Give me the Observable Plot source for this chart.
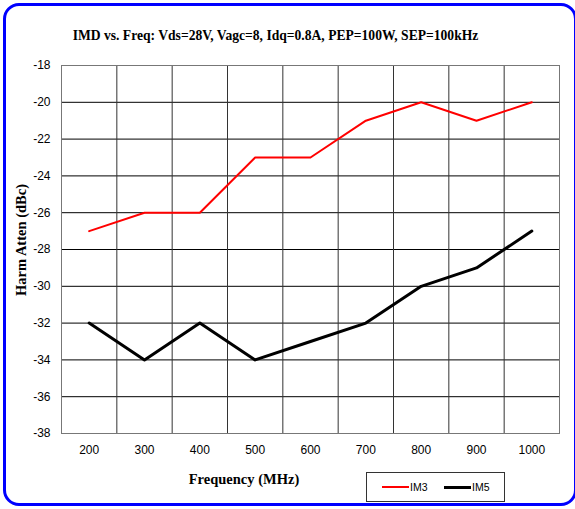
<!DOCTYPE html>
<html>
<head>
<meta charset="utf-8">
<script src="https://cdn.jsdelivr.net/npm/d3@7"></script>
<script src="https://cdn.jsdelivr.net/npm/@observablehq/plot@0.6"></script>
<style>
  html, body { margin: 0; padding: 0; background: #fff; }
  #wrap { position: relative; width: 575px; height: 509px; overflow: hidden; }
  #border { position: absolute; left: 3px; top: 3px; width: 574px; height: 503px; border: 3px solid #0000ff; border-radius: 16px; box-sizing: border-box; }
  #title { position: absolute; left: 0; width: 551px; top: 28px; text-align: center; font: bold 13.6px "Liberation Serif", "Times New Roman", serif; color: #000; white-space: nowrap; }
  #ylabel { position: absolute; left: 21px; top: 240px; transform: translate(-50%, -50%) rotate(-90deg); font: bold 14.5px "Liberation Serif", serif; white-space: nowrap; }
  #xlabel { position: absolute; left: 244px; top: 479px; transform: translate(-50%, -50%); font: bold 14.5px "Liberation Serif", serif; white-space: nowrap; }
  #legend { position: absolute; left: 366px; top: 472px; width: 139px; height: 30px; border: 1px solid #333; box-sizing: border-box; background: #fff; font: 10.5px "Liberation Sans", Arial, sans-serif; }
  .item { position: absolute; top: 0; height: 28px; display: flex; align-items: center; }
  .sw { display: inline-block; width: 27px; margin-right: 1px; }
  #chart { position: absolute; left: 0; top: 0; }
</style>
</head>
<body>
<div id="wrap">
  <div id="chart"></div>
  <div id="border"></div>
  <div id="title">IMD vs. Freq: Vds=28V, Vagc=8, Idq=0.8A, PEP=100W, SEP=100kHz</div>
  <div id="ylabel">Harm Atten (dBc)</div>
  <div id="xlabel">Frequency (MHz)</div>
  <div id="legend"></div>
</div>
<script>
const freqs = [200, 300, 400, 500, 600, 700, 800, 900, 1000];
const im3 = [-27, -26, -26, -23, -23, -21, -20, -21, -20];
const im5 = [-32, -34, -32, -34, -33, -32, -30, -29, -27];
const yTicks = [-38, -36, -34, -32, -30, -28, -26, -24, -22, -20, -18];
const xGrid = [250, 350, 450, 550, 650, 750, 850, 950];
const series = [
  {name: "IM3", values: im3, color: "#ff0000", width: 2},
  {name: "IM5", values: im5, color: "#000000", width: 3}
];

const rows = series.flatMap(s => freqs.map((f, i) => ({series: s.name, freq: f, value: s.values[i]})));

const chart = Plot.plot({
  width: 575,
  height: 509,
  marginLeft: 61,
  marginRight: 16,
  marginTop: 65,
  marginBottom: 76,
  style: {fontFamily: "'Liberation Sans', Arial, sans-serif", fontSize: "12px", color: "#000", background: "transparent"},
  x: {domain: [150, 1050], label: null},
  y: {domain: [-38, -18], label: null},
  marks: [
    Plot.ruleY(yTicks.slice(1, -1), {stroke: "#000", strokeWidth: 1}),
    Plot.ruleX(xGrid, {stroke: "#333", strokeWidth: 1}),
    Plot.frame({stroke: "#777", strokeWidth: 1}),
    ...series.map(s => Plot.line(rows.filter(r => r.series === s.name), {x: "freq", y: "value", stroke: s.color, strokeWidth: s.width})),
    Plot.axisY({ticks: yTicks, tickSize: 0, tickPadding: 11, label: null, fontSize: 12, tickFormat: d => String(d).replace("-", "-")}),
    Plot.axisX({ticks: freqs, tickSize: 0, tickPadding: 12, label: null, fontSize: 12, tickFormat: d => String(d)})
  ]
});
document.getElementById("chart").appendChild(chart);

const legend = document.getElementById("legend");
const offsets = [15, 77];
series.forEach((s, i) => {
  const item = document.createElement("div");
  item.className = "item";
  item.style.left = offsets[i] + "px";
  const sw = document.createElement("span");
  sw.className = "sw";
  sw.style.borderTop = s.width + "px solid " + s.color;
  item.appendChild(sw);
  item.appendChild(document.createTextNode(s.name));
  legend.appendChild(item);
});
</script>
</body>
</html>
